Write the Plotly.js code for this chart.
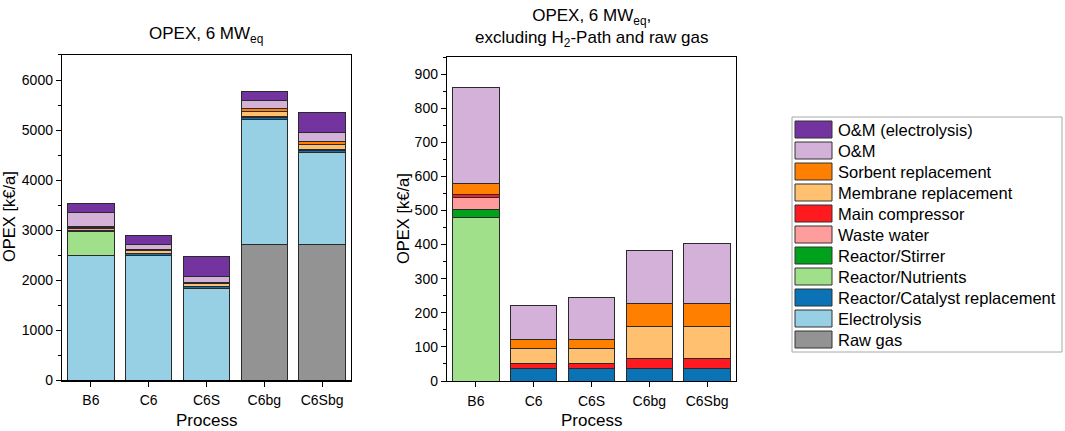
<!DOCTYPE html>
<html>
<head>
<meta charset="utf-8">
<script src="https://cdn.plot.ly/plotly-3.0.1.min.js"></script>
<style>
  html, body { margin: 0; padding: 0; background: #fff; }
  #myDiv { width: 1065px; height: 431px; }
</style>
</head>
<body>
<div id="myDiv"></div>
<script>
// processes on the x axis
var processes = ['B6', 'C6', 'C6S', 'C6bg', 'C6Sbg'];

// OPEX components in k€/a, stacked bottom to top
var rawGas       = [0, 0, 0, 2720, 2720];
var electrolysis = [2500, 2490, 1835, 2485, 1830];
var catalyst     = [0, 37, 37, 37, 37];
var nutrients    = [478, 0, 0, 0, 0];
var stirrer      = [24, 0, 0, 0, 0];
var wasteWater   = [35, 0, 0, 0, 0];
var compressor   = [10, 14, 14, 30, 30];
var membrane     = [0, 45, 45, 92, 92];
var sorbent      = [32, 26, 26, 68, 68];
var om           = [281, 99, 124, 157, 177];
var omElectro    = [170, 180, 400, 180, 400];

var series = [
  {name: 'Raw gas', y: rawGas, color: '#939393', right: false},
  {name: 'Electrolysis', y: electrolysis, color: '#97d0e5', right: false},
  {name: 'Reactor/Catalyst replacement', y: catalyst, color: '#0a72b5', right: true},
  {name: 'Reactor/Nutrients', y: nutrients, color: '#a1e08a', right: true},
  {name: 'Reactor/Stirrer', y: stirrer, color: '#00a21c', right: true},
  {name: 'Waste water', y: wasteWater, color: '#ff9d9d', right: true},
  {name: 'Main compressor', y: compressor, color: '#ff1a1f', right: true},
  {name: 'Membrane replacement', y: membrane, color: '#ffc170', right: true},
  {name: 'Sorbent replacement', y: sorbent, color: '#ff8000', right: true},
  {name: 'O&M', y: om, color: '#d4b1d8', right: true},
  {name: 'O&M (electrolysis)', y: omElectro, color: '#7434a0', right: false}
];

var data = [];
series.forEach(function(s){
  data.push({
    type: 'bar', x: processes, y: s.y, name: s.name, xaxis: 'x', yaxis: 'y',
    marker: {color: s.color, line: {color: '#2a2a2a', width: 1}}
  });
});
series.forEach(function(s){
  if(!s.right) return;
  data.push({
    type: 'bar', x: processes, y: s.y, name: s.name, xaxis: 'x2', yaxis: 'y2',
    marker: {color: s.color, line: {color: '#2a2a2a', width: 1}}
  });
});

var fam = 'Liberation Sans, Arial, sans-serif';
var axFont = {family: fam, size: 14, color: '#000'};

function xAxis(dom){
  return {
    domain: dom, type: 'category', showline: true, linecolor: '#000', linewidth: 1.2,
    mirror: true, ticks: 'outside', ticklen: 5, tickcolor: '#000', tickfont: axFont,
    ticklabelstandoff: 2,
    minor: {ticks: 'outside', ticklen: 3, tickcolor: '#000', dtick: 1, tick0: 0.5},
    showgrid: false, zeroline: false, fixedrange: true
  };
}
function yAxis(dom, range, dt, anchor){
  return {
    domain: dom, range: range, dtick: dt, anchor: anchor, showline: true, linecolor: '#000',
    linewidth: 1.2, mirror: true, ticks: 'outside', ticklen: 5, tickcolor: '#000',
    tickfont: axFont, minor: {ticks: 'outside', ticklen: 3, tickcolor: '#000', dtick: dt / 2},
    showgrid: false, zeroline: false, fixedrange: true
  };
}

function note(text, px, py, size, angle, anchor){
  return {text: text, xref: 'paper', yref: 'paper', x: px / 1065, y: 1 - py / 431,
          xanchor: anchor || 'center', yanchor: 'middle', textangle: angle || 0, showarrow: false,
          font: {family: fam, size: size, color: '#000'}};
}
function box(x0, y0, x1, y1, fill, line){
  return {type: 'rect', xref: 'paper', yref: 'paper', layer: 'above',
          x0: x0 / 1065, x1: x1 / 1065, y0: 1 - y0 / 431, y1: 1 - y1 / 431,
          fillcolor: fill, line: {color: line, width: 1}};
}

var annotations = [
  note('OPEX, 6 MW<sub>eq</sub>', 206, 35, 17),
  note('OPEX, 6 MW<sub>eq</sub>,<br>excluding H<sub>2</sub>-Path and raw gas', 591, 28, 17),
  note('OPEX [k€/a]', 9, 217, 16.5, -90),
  note('OPEX [k€/a]', 403, 219, 16.5, -90),
  note('Process', 206, 420, 17),
  note('Process', 591, 420, 17)
];

// legend box drawn by hand, top entry = top of the stack
var shapes = [box(792, 117, 1062, 352, 'rgba(0,0,0,0)', '#a8a8a8')];
series.slice().reverse().forEach(function(s, i){
  var top = 121 + 21 * i;
  shapes.push(box(795, top, 832, top + 17, s.color, '#333'));
  annotations.push(note(s.name, 836, top + 8.5, 16.5, 0, 'left'));
});

var layout = {
  width: 1065, height: 431,
  margin: {l: 0, r: 0, t: 0, b: 0},
  paper_bgcolor: '#fff', plot_bgcolor: '#fff',
  barmode: 'stack', bargap: 0.2,
  showlegend: false,
  font: {family: fam, color: '#000'},
  xaxis: xAxis([0.0582, 0.3296]),
  yaxis: yAxis([0.1172, 0.8724], [0, 6500], 1000, 'x'),
  xaxis2: Object.assign(xAxis([0.4197, 0.6911]), {anchor: 'y2'}),
  yaxis2: yAxis([0.116, 0.8677], [0, 950], 100, 'x2'),
  shapes: shapes,
  annotations: annotations
};

Plotly.newPlot('myDiv', data, layout, {displayModeBar: false, staticPlot: true});
</script>
</body>
</html>
